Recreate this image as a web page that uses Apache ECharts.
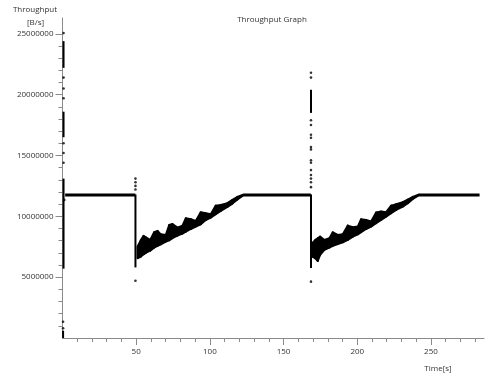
<!DOCTYPE html>
<html><head><meta charset="utf-8">
<script src="https://cdn.jsdelivr.net/npm/echarts@6/dist/echarts.min.js"></script>
<style>html,body{margin:0;padding:0;background:#fff}#c{width:486px;height:376px}</style>
</head><body><div id="c"></div>
<script>
const M = 1e6; // values below are in millions of B/s
const xMajorTicks = [50, 100, 150, 200, 250];
const xMinorTicks = [10,20,30,40,60,70,80,90,110,120,130,140,160,170,180,190,210,220,230,240,260,270,280];
const yMajorTicks = [5, 10, 15, 20, 25];
const yMinorTicks = [1,2,3,4,6,7,8,9,11,12,13,14,16,17,18,19,21,22,23,24];

// flat (saturated) segments
const flatStart = [1.8, 122.3, 241.2];
const flatEnd = [49.4, 168.5, 283];
const flatLevel = [11.76, 11.76, 11.76];

// dense vertical point columns
const colT = [0.7, 0.7, 0.7, 0.4, 49.5, 168.6, 168.6];
const colLow = [5.7, 16.5, 22.2, 0.0, 5.8, 5.75, 18.5];
const colHigh = [13.1, 18.6, 24.4, 0.6, 11.8, 11.8, 20.4];

// isolated points
const dotT = [0.7,0.7,0.7,0.7,0.7,0.7,0.7,0.4,0.4,1.2,
  49.5,49.5,49.5,49.5,49.5,
  168.6,168.6,168.6,168.6,168.6,168.6,168.6,168.6,168.6,168.6,168.6,168.6,168.6,168.6,168.6,168.6];
const dotV = [25.06,21.4,20.5,19.7,16.0,15.2,14.4,1.34,0.8,11.35,
  13.1,12.8,12.5,12.2,4.7,
  21.8,21.4,17.9,17.5,16.7,16.45,15.7,15.5,14.6,14.4,13.8,13.4,13.1,12.8,12.4,4.63];

// ramp 1 (noisy band)
const ramp1T = [50.9,53.2,55.0,56.8,59.5,62.2,64.5,66.7,70.1,72.4,74.6,78.0,81.4,83.7,87.1,90.4,93.8,97.2,100.6,104.0,107.4,111.9,115.3,118.7,122.1];
const ramp1Low = [6.55,6.69,6.88,7.02,7.18,7.43,7.57,7.70,7.92,8.03,8.20,8.41,8.58,8.74,8.96,9.16,9.35,9.70,9.90,10.17,10.44,10.77,11.05,11.38,11.68];
const ramp1High = [7.51,8.06,8.39,8.25,8.06,8.69,8.80,8.52,8.47,9.29,9.37,9.07,9.24,9.84,9.76,9.62,10.34,10.25,10.17,10.88,10.94,11.08,11.35,11.60,11.76];

// ramp 2 (noisy band)
const ramp2T = [169.4,171.6,173.2,174.8,177.7,181.1,183.4,186.8,190.2,193.6,197.0,200.4,202.6,206.0,209.4,212.8,216.2,219.6,223.0,226.4,230.9,234.3,237.7,241.1];
const ramp2Low = [6.69,6.55,6.33,6.83,7.24,7.43,7.57,7.73,7.87,8.06,8.33,8.52,8.69,8.96,9.16,9.43,9.70,9.98,10.25,10.53,10.80,11.08,11.43,11.68];
const ramp2High = [7.79,8.06,8.20,8.33,8.06,8.20,8.69,8.47,8.52,9.24,9.10,9.16,9.76,9.70,9.57,10.31,10.39,10.34,10.88,10.99,11.16,11.38,11.60,11.76];

const FONT = '"Open Sans", "DejaVu Sans", sans-serif';
const AX = '#8a8a8a';
const TXT = '#333333';

function bandSeries(T, L, H) {
  return {
    type: 'custom', xAxisIndex: 0, yAxisIndex: 0, silent: true,
    data: T.map((t, i) => [t, L[i] * M, H[i] * M]),
    encode: { x: 0, y: [1, 2] },
    renderItem: function (params, api) {
      const i = params.dataIndex;
      if (i >= T.length - 1) return { type: 'group', children: [] };
      const pts = [
        api.coord([T[i], L[i] * M]), api.coord([T[i + 1], L[i + 1] * M]),
        api.coord([T[i + 1], H[i + 1] * M]), api.coord([T[i], H[i] * M])
      ];
      return { type: 'polygon', shape: { points: pts }, style: { fill: '#000', stroke: '#000', lineWidth: 2, lineJoin: 'round' } };
    }
  };
}

const series = [];
flatStart.forEach((s, i) => series.push({
  type: 'line', xAxisIndex: 0, yAxisIndex: 0, symbol: 'none', silent: true,
  data: [[s, flatLevel[i] * M], [flatEnd[i], flatLevel[i] * M]],
  lineStyle: { color: '#000', width: 3 }
}));
colT.forEach((t, i) => series.push({
  type: 'line', xAxisIndex: 0, yAxisIndex: 0, symbol: 'none', silent: true,
  data: [[t, colLow[i] * M], [t, colHigh[i] * M]],
  lineStyle: { color: '#000', width: 2 }
}));
series.push(bandSeries(ramp1T, ramp1Low, ramp1High));
series.push(bandSeries(ramp2T, ramp2Low, ramp2High));
series.push({
  type: 'scatter', xAxisIndex: 0, yAxisIndex: 0, silent: true,
  data: dotT.map((t, i) => [t, dotV[i] * M]),
  symbol: 'circle', symbolSize: 2.6, itemStyle: { color: '#000' }
});

const chart = echarts.init(document.getElementById('c'), null, { renderer: 'canvas' });
chart.setOption({
  animation: false,
  backgroundColor: '#fff',
  grid: { left: 62.5, right: 2, top: 18, bottom: 38, containLabel: false },
  xAxis: [
    { type: 'value', min: 0, max: 286, position: 'bottom',
      axisLine: { show: true, onZero: false, lineStyle: { color: AX, width: 1 } },
      axisTick: { show: true, customValues: xMinorTicks, length: 4, lineStyle: { color: AX } },
      axisLabel: { show: false }, splitLine: { show: false } },
    { type: 'value', min: 0, max: 286, position: 'bottom',
      axisLine: { show: false, onZero: false },
      axisTick: { show: true, customValues: xMajorTicks, length: 7, lineStyle: { color: AX } },
      axisLabel: { show: true, customValues: xMajorTicks, margin: 10, fontSize: 8, fontFamily: FONT, color: TXT },
      splitLine: { show: false } }
  ],
  yAxis: [
    { type: 'value', min: 0, max: 26.3 * M, position: 'left',
      axisLine: { show: true, onZero: false, lineStyle: { color: AX, width: 1 } },
      axisTick: { show: true, customValues: yMinorTicks.map(v => v * M), length: 4, lineStyle: { color: AX } },
      axisLabel: { show: false }, splitLine: { show: false } },
    { type: 'value', min: 0, max: 26.3 * M, position: 'left',
      axisLine: { show: false, onZero: false },
      axisTick: { show: true, customValues: yMajorTicks.map(v => v * M), length: 7, lineStyle: { color: AX } },
      axisLabel: { show: true, customValues: yMajorTicks.map(v => v * M), margin: 9, fontSize: 8, fontFamily: FONT, color: TXT,
        formatter: v => String(Math.round(v)) },
      splitLine: { show: false } }
  ],
  graphic: [
    { type: 'text', x: 272, y: 20, silent: true, style: { text: 'Throughput Graph', align: 'center', verticalAlign: 'middle', font: '8px ' + FONT, fill: TXT } },
    { type: 'text', x: 35, y: 10, silent: true, style: { text: 'Throughput', align: 'center', verticalAlign: 'middle', font: '8px ' + FONT, fill: TXT } },
    { type: 'text', x: 35.5, y: 22.7, silent: true, style: { text: '[B/s]', align: 'center', verticalAlign: 'middle', font: '8px ' + FONT, fill: TXT } },
    { type: 'text', x: 438, y: 369, silent: true, style: { text: 'Time[s]', align: 'center', verticalAlign: 'middle', font: '8px ' + FONT, fill: TXT } }
  ],
  series: series
});
</script>
</body></html>
